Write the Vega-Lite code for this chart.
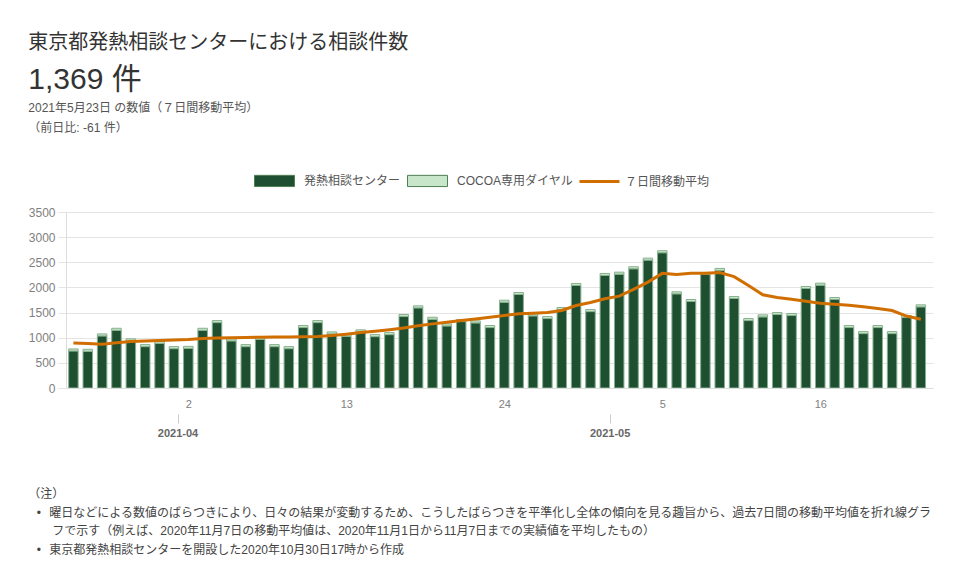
{
  "$schema": "https://vega.github.io/schema/vega-lite/v6.json",
  "background": "white",
  "padding": {"left": 28, "top": 33, "right": 10, "bottom": 5},
  "title": {
    "text": ["（注）", "\u200b\u2002\u2009•\u2002\u2009曜日などによる数値のばらつきにより、日々の結果が変動するため、こうしたばらつきを平準化し全体の傾向を見る趣旨から、過去7日間の移動平均値を折れ線グラ", "\u200b\u3000\u3000フで示す（例えば、2020年11月7日の移動平均値は、2020年11月1日から11月7日までの実績値を平均したもの）", "\u200b\u2002\u2009•\u2002\u2009東京都発熱相談センターを開設した2020年10月30日17時から作成"],
    "orient": "bottom",
    "anchor": "start",
    "fontSize": 12,
    "fontWeight": "normal",
    "color": "#444444",
    "lineHeight": 18.5,
    "offset": 51
  },
  "resolve": {"legend": {"color": "independent", "stroke": "independent"}},
  "datasets": {
    "bars": [
      {"date": "2021-03-25T00:00:00", "series": "発熱相談センター", "count": 737},
      {"date": "2021-03-26T00:00:00", "series": "発熱相談センター", "count": 730},
      {"date": "2021-03-27T00:00:00", "series": "発熱相談センター", "count": 1036},
      {"date": "2021-03-28T00:00:00", "series": "発熱相談センター", "count": 1148},
      {"date": "2021-03-29T00:00:00", "series": "発熱相談センター", "count": 937},
      {"date": "2021-03-30T00:00:00", "series": "発熱相談センター", "count": 823},
      {"date": "2021-03-31T00:00:00", "series": "発熱相談センター", "count": 889},
      {"date": "2021-04-01T00:00:00", "series": "発熱相談センター", "count": 783},
      {"date": "2021-04-02T00:00:00", "series": "発熱相談センター", "count": 789},
      {"date": "2021-04-03T00:00:00", "series": "発熱相談センター", "count": 1148},
      {"date": "2021-04-04T00:00:00", "series": "発熱相談センター", "count": 1301},
      {"date": "2021-04-05T00:00:00", "series": "発熱相談センター", "count": 937},
      {"date": "2021-04-06T00:00:00", "series": "発熱相談センター", "count": 823},
      {"date": "2021-04-07T00:00:00", "series": "発熱相談センター", "count": 969},
      {"date": "2021-04-08T00:00:00", "series": "発熱相談センター", "count": 823},
      {"date": "2021-04-09T00:00:00", "series": "発熱相談センター", "count": 783},
      {"date": "2021-04-10T00:00:00", "series": "発熱相談センター", "count": 1202},
      {"date": "2021-04-11T00:00:00", "series": "発熱相談センター", "count": 1301},
      {"date": "2021-04-12T00:00:00", "series": "発熱相談センター", "count": 1075},
      {"date": "2021-04-13T00:00:00", "series": "発熱相談センター", "count": 1030},
      {"date": "2021-04-14T00:00:00", "series": "発熱相談センター", "count": 1116},
      {"date": "2021-04-15T00:00:00", "series": "発熱相談センター", "count": 1022},
      {"date": "2021-04-16T00:00:00", "series": "発熱相談センター", "count": 1062},
      {"date": "2021-04-17T00:00:00", "series": "発熱相談センター", "count": 1421},
      {"date": "2021-04-18T00:00:00", "series": "発熱相談センター", "count": 1594},
      {"date": "2021-04-19T00:00:00", "series": "発熱相談センター", "count": 1367},
      {"date": "2021-04-20T00:00:00", "series": "発熱相談センター", "count": 1235},
      {"date": "2021-04-21T00:00:00", "series": "発熱相談センター", "count": 1321},
      {"date": "2021-04-22T00:00:00", "series": "発熱相談センター", "count": 1295},
      {"date": "2021-04-23T00:00:00", "series": "発熱相談センター", "count": 1202},
      {"date": "2021-04-24T00:00:00", "series": "発熱相談センター", "count": 1706},
      {"date": "2021-04-25T00:00:00", "series": "発熱相談センター", "count": 1859},
      {"date": "2021-04-26T00:00:00", "series": "発熱相談センター", "count": 1435},
      {"date": "2021-04-27T00:00:00", "series": "発熱相談センター", "count": 1381},
      {"date": "2021-04-28T00:00:00", "series": "発熱相談センター", "count": 1560},
      {"date": "2021-04-29T00:00:00", "series": "発熱相談センター", "count": 2039},
      {"date": "2021-04-30T00:00:00", "series": "発熱相談センター", "count": 1520},
      {"date": "2021-05-01T00:00:00", "series": "発熱相談センター", "count": 2238},
      {"date": "2021-05-02T00:00:00", "series": "発熱相談センター", "count": 2264},
      {"date": "2021-05-03T00:00:00", "series": "発熱相談センター", "count": 2371},
      {"date": "2021-05-04T00:00:00", "series": "発熱相談センター", "count": 2543},
      {"date": "2021-05-05T00:00:00", "series": "発熱相談センター", "count": 2690},
      {"date": "2021-05-06T00:00:00", "series": "発熱相談センター", "count": 1873},
      {"date": "2021-05-07T00:00:00", "series": "発熱相談センター", "count": 1720},
      {"date": "2021-05-08T00:00:00", "series": "発熱相談センター", "count": 2258},
      {"date": "2021-05-09T00:00:00", "series": "発熱相談センター", "count": 2338},
      {"date": "2021-05-10T00:00:00", "series": "発熱相談センター", "count": 1780},
      {"date": "2021-05-11T00:00:00", "series": "発熱相談センター", "count": 1341},
      {"date": "2021-05-12T00:00:00", "series": "発熱相談センター", "count": 1415},
      {"date": "2021-05-13T00:00:00", "series": "発熱相談センター", "count": 1461},
      {"date": "2021-05-14T00:00:00", "series": "発熱相談センター", "count": 1441},
      {"date": "2021-05-15T00:00:00", "series": "発熱相談センター", "count": 1979},
      {"date": "2021-05-16T00:00:00", "series": "発熱相談センター", "count": 2045},
      {"date": "2021-05-17T00:00:00", "series": "発熱相談センター", "count": 1760},
      {"date": "2021-05-18T00:00:00", "series": "発熱相談センター", "count": 1202},
      {"date": "2021-05-19T00:00:00", "series": "発熱相談センター", "count": 1082},
      {"date": "2021-05-20T00:00:00", "series": "発熱相談センター", "count": 1202},
      {"date": "2021-05-21T00:00:00", "series": "発熱相談センター", "count": 1082},
      {"date": "2021-05-22T00:00:00", "series": "発熱相談センター", "count": 1401},
      {"date": "2021-05-23T00:00:00", "series": "発熱相談センター", "count": 1614},
      {"date": "2021-03-25T00:00:00", "series": "COCOA専用ダイヤル", "count": 40},
      {"date": "2021-03-26T00:00:00", "series": "COCOA専用ダイヤル", "count": 40},
      {"date": "2021-03-27T00:00:00", "series": "COCOA専用ダイヤル", "count": 40},
      {"date": "2021-03-28T00:00:00", "series": "COCOA専用ダイヤル", "count": 40},
      {"date": "2021-03-29T00:00:00", "series": "COCOA専用ダイヤル", "count": 40},
      {"date": "2021-03-30T00:00:00", "series": "COCOA専用ダイヤル", "count": 40},
      {"date": "2021-03-31T00:00:00", "series": "COCOA専用ダイヤル", "count": 40},
      {"date": "2021-04-01T00:00:00", "series": "COCOA専用ダイヤル", "count": 40},
      {"date": "2021-04-02T00:00:00", "series": "COCOA専用ダイヤル", "count": 40},
      {"date": "2021-04-03T00:00:00", "series": "COCOA専用ダイヤル", "count": 40},
      {"date": "2021-04-04T00:00:00", "series": "COCOA専用ダイヤル", "count": 40},
      {"date": "2021-04-05T00:00:00", "series": "COCOA専用ダイヤル", "count": 40},
      {"date": "2021-04-06T00:00:00", "series": "COCOA専用ダイヤル", "count": 40},
      {"date": "2021-04-07T00:00:00", "series": "COCOA専用ダイヤル", "count": 40},
      {"date": "2021-04-08T00:00:00", "series": "COCOA専用ダイヤル", "count": 40},
      {"date": "2021-04-09T00:00:00", "series": "COCOA専用ダイヤル", "count": 40},
      {"date": "2021-04-10T00:00:00", "series": "COCOA専用ダイヤル", "count": 40},
      {"date": "2021-04-11T00:00:00", "series": "COCOA専用ダイヤル", "count": 40},
      {"date": "2021-04-12T00:00:00", "series": "COCOA専用ダイヤル", "count": 40},
      {"date": "2021-04-13T00:00:00", "series": "COCOA専用ダイヤル", "count": 40},
      {"date": "2021-04-14T00:00:00", "series": "COCOA専用ダイヤル", "count": 40},
      {"date": "2021-04-15T00:00:00", "series": "COCOA専用ダイヤル", "count": 40},
      {"date": "2021-04-16T00:00:00", "series": "COCOA専用ダイヤル", "count": 40},
      {"date": "2021-04-17T00:00:00", "series": "COCOA専用ダイヤル", "count": 40},
      {"date": "2021-04-18T00:00:00", "series": "COCOA専用ダイヤル", "count": 40},
      {"date": "2021-04-19T00:00:00", "series": "COCOA専用ダイヤル", "count": 40},
      {"date": "2021-04-20T00:00:00", "series": "COCOA専用ダイヤル", "count": 40},
      {"date": "2021-04-21T00:00:00", "series": "COCOA専用ダイヤル", "count": 40},
      {"date": "2021-04-22T00:00:00", "series": "COCOA専用ダイヤル", "count": 40},
      {"date": "2021-04-23T00:00:00", "series": "COCOA専用ダイヤル", "count": 40},
      {"date": "2021-04-24T00:00:00", "series": "COCOA専用ダイヤル", "count": 40},
      {"date": "2021-04-25T00:00:00", "series": "COCOA専用ダイヤル", "count": 40},
      {"date": "2021-04-26T00:00:00", "series": "COCOA専用ダイヤル", "count": 40},
      {"date": "2021-04-27T00:00:00", "series": "COCOA専用ダイヤル", "count": 40},
      {"date": "2021-04-28T00:00:00", "series": "COCOA専用ダイヤル", "count": 40},
      {"date": "2021-04-29T00:00:00", "series": "COCOA専用ダイヤル", "count": 40},
      {"date": "2021-04-30T00:00:00", "series": "COCOA専用ダイヤル", "count": 40},
      {"date": "2021-05-01T00:00:00", "series": "COCOA専用ダイヤル", "count": 40},
      {"date": "2021-05-02T00:00:00", "series": "COCOA専用ダイヤル", "count": 40},
      {"date": "2021-05-03T00:00:00", "series": "COCOA専用ダイヤル", "count": 40},
      {"date": "2021-05-04T00:00:00", "series": "COCOA専用ダイヤル", "count": 40},
      {"date": "2021-05-05T00:00:00", "series": "COCOA専用ダイヤル", "count": 40},
      {"date": "2021-05-06T00:00:00", "series": "COCOA専用ダイヤル", "count": 40},
      {"date": "2021-05-07T00:00:00", "series": "COCOA専用ダイヤル", "count": 40},
      {"date": "2021-05-08T00:00:00", "series": "COCOA専用ダイヤル", "count": 40},
      {"date": "2021-05-09T00:00:00", "series": "COCOA専用ダイヤル", "count": 40},
      {"date": "2021-05-10T00:00:00", "series": "COCOA専用ダイヤル", "count": 40},
      {"date": "2021-05-11T00:00:00", "series": "COCOA専用ダイヤル", "count": 40},
      {"date": "2021-05-12T00:00:00", "series": "COCOA専用ダイヤル", "count": 40},
      {"date": "2021-05-13T00:00:00", "series": "COCOA専用ダイヤル", "count": 40},
      {"date": "2021-05-14T00:00:00", "series": "COCOA専用ダイヤル", "count": 40},
      {"date": "2021-05-15T00:00:00", "series": "COCOA専用ダイヤル", "count": 40},
      {"date": "2021-05-16T00:00:00", "series": "COCOA専用ダイヤル", "count": 40},
      {"date": "2021-05-17T00:00:00", "series": "COCOA専用ダイヤル", "count": 40},
      {"date": "2021-05-18T00:00:00", "series": "COCOA専用ダイヤル", "count": 40},
      {"date": "2021-05-19T00:00:00", "series": "COCOA専用ダイヤル", "count": 40},
      {"date": "2021-05-20T00:00:00", "series": "COCOA専用ダイヤル", "count": 40},
      {"date": "2021-05-21T00:00:00", "series": "COCOA専用ダイヤル", "count": 40},
      {"date": "2021-05-22T00:00:00", "series": "COCOA専用ダイヤル", "count": 40},
      {"date": "2021-05-23T00:00:00", "series": "COCOA専用ダイヤル", "count": 40}
    ],
    "ma": [
      {"date": "2021-03-25T00:00:00", "series": "７日間移動平均", "avg": 895},
      {"date": "2021-03-26T00:00:00", "series": "７日間移動平均", "avg": 885},
      {"date": "2021-03-27T00:00:00", "series": "７日間移動平均", "avg": 870},
      {"date": "2021-03-28T00:00:00", "series": "７日間移動平均", "avg": 900},
      {"date": "2021-03-29T00:00:00", "series": "７日間移動平均", "avg": 925},
      {"date": "2021-03-30T00:00:00", "series": "７日間移動平均", "avg": 935},
      {"date": "2021-03-31T00:00:00", "series": "７日間移動平均", "avg": 945},
      {"date": "2021-04-01T00:00:00", "series": "７日間移動平均", "avg": 955},
      {"date": "2021-04-02T00:00:00", "series": "７日間移動平均", "avg": 965},
      {"date": "2021-04-03T00:00:00", "series": "７日間移動平均", "avg": 985},
      {"date": "2021-04-04T00:00:00", "series": "７日間移動平均", "avg": 995},
      {"date": "2021-04-05T00:00:00", "series": "７日間移動平均", "avg": 1000},
      {"date": "2021-04-06T00:00:00", "series": "７日間移動平均", "avg": 1005},
      {"date": "2021-04-07T00:00:00", "series": "７日間移動平均", "avg": 1010},
      {"date": "2021-04-08T00:00:00", "series": "７日間移動平均", "avg": 1012},
      {"date": "2021-04-09T00:00:00", "series": "７日間移動平均", "avg": 1015},
      {"date": "2021-04-10T00:00:00", "series": "７日間移動平均", "avg": 1018},
      {"date": "2021-04-11T00:00:00", "series": "７日間移動平均", "avg": 1022},
      {"date": "2021-04-12T00:00:00", "series": "７日間移動平均", "avg": 1042},
      {"date": "2021-04-13T00:00:00", "series": "７日間移動平均", "avg": 1070},
      {"date": "2021-04-14T00:00:00", "series": "７日間移動平均", "avg": 1102},
      {"date": "2021-04-15T00:00:00", "series": "７日間移動平均", "avg": 1128},
      {"date": "2021-04-16T00:00:00", "series": "７日間移動平均", "avg": 1160},
      {"date": "2021-04-17T00:00:00", "series": "７日間移動平均", "avg": 1195},
      {"date": "2021-04-18T00:00:00", "series": "７日間移動平均", "avg": 1236},
      {"date": "2021-04-19T00:00:00", "series": "７日間移動平均", "avg": 1275},
      {"date": "2021-04-20T00:00:00", "series": "７日間移動平均", "avg": 1308},
      {"date": "2021-04-21T00:00:00", "series": "７日間移動平均", "avg": 1341},
      {"date": "2021-04-22T00:00:00", "series": "７日間移動平均", "avg": 1372},
      {"date": "2021-04-23T00:00:00", "series": "７日間移動平均", "avg": 1407},
      {"date": "2021-04-24T00:00:00", "series": "７日間移動平均", "avg": 1441},
      {"date": "2021-04-25T00:00:00", "series": "７日間移動平均", "avg": 1475},
      {"date": "2021-04-26T00:00:00", "series": "７日間移動平均", "avg": 1487},
      {"date": "2021-04-27T00:00:00", "series": "７日間移動平均", "avg": 1501},
      {"date": "2021-04-28T00:00:00", "series": "７日間移動平均", "avg": 1541},
      {"date": "2021-04-29T00:00:00", "series": "７日間移動平均", "avg": 1640},
      {"date": "2021-04-30T00:00:00", "series": "７日間移動平均", "avg": 1700},
      {"date": "2021-05-01T00:00:00", "series": "７日間移動平均", "avg": 1774},
      {"date": "2021-05-02T00:00:00", "series": "７日間移動平均", "avg": 1826},
      {"date": "2021-05-03T00:00:00", "series": "７日間移動平均", "avg": 1960},
      {"date": "2021-05-04T00:00:00", "series": "７日間移動平均", "avg": 2105},
      {"date": "2021-05-05T00:00:00", "series": "７日間移動平均", "avg": 2280},
      {"date": "2021-05-06T00:00:00", "series": "７日間移動平均", "avg": 2258},
      {"date": "2021-05-07T00:00:00", "series": "７日間移動平均", "avg": 2284},
      {"date": "2021-05-08T00:00:00", "series": "７日間移動平均", "avg": 2284},
      {"date": "2021-05-09T00:00:00", "series": "７日間移動平均", "avg": 2298},
      {"date": "2021-05-10T00:00:00", "series": "７日間移動平均", "avg": 2215},
      {"date": "2021-05-11T00:00:00", "series": "７日間移動平均", "avg": 2039},
      {"date": "2021-05-12T00:00:00", "series": "７日間移動平均", "avg": 1853},
      {"date": "2021-05-13T00:00:00", "series": "７日間移動平均", "avg": 1800},
      {"date": "2021-05-14T00:00:00", "series": "７日間移動平均", "avg": 1766},
      {"date": "2021-05-15T00:00:00", "series": "７日間移動平均", "avg": 1726},
      {"date": "2021-05-16T00:00:00", "series": "７日間移動平均", "avg": 1686},
      {"date": "2021-05-17T00:00:00", "series": "７日間移動平均", "avg": 1666},
      {"date": "2021-05-18T00:00:00", "series": "７日間移動平均", "avg": 1646},
      {"date": "2021-05-19T00:00:00", "series": "７日間移動平均", "avg": 1614},
      {"date": "2021-05-20T00:00:00", "series": "７日間移動平均", "avg": 1580},
      {"date": "2021-05-21T00:00:00", "series": "７日間移動平均", "avg": 1541},
      {"date": "2021-05-22T00:00:00", "series": "７日間移動平均", "avg": 1430},
      {"date": "2021-05-23T00:00:00", "series": "７日間移動平均", "avg": 1369}
    ]
  },
  "vconcat": [
    {
      "title": {
        "text": "東京都発熱相談センターにおける相談件数",
        "anchor": "start",
        "fontSize": 20,
        "fontWeight": "normal",
        "color": "#333333",
        "offset": 12
      },
      "resolve": {"legend": {"color": "independent", "stroke": "independent"}},
      "vconcat": [
        {
          "title": {
            "text": "1,369 件",
            "subtitle": ["2021年5月23日 の数値（７日間移動平均）", "（前日比: -61 件）"],
            "anchor": "start",
            "fontSize": 30,
            "fontWeight": "normal",
            "color": "#333333",
            "subtitleFontSize": 12,
            "subtitleColor": "#555555",
            "subtitleLineHeight": 20,
            "subtitlePadding": 8,
            "offset": 26
          },
          "width": 867,
          "height": 176,
          "resolve": {"axis": {"x": "independent"}},
          "layer": [
            {
              "data": {"name": "bars"},
              "mark": {"type": "bar", "size": 9.5, "clip": true, "stroke": "#86b08e", "strokeWidth": 1},
              "encoding": {
                "x": {
                  "field": "date",
                  "type": "temporal",
                  "scale": {"domain": [{"year": 2021, "month": 3, "date": 24, "hours": 20}, {"year": 2021, "month": 5, "date": 23, "hours": 12}]},
                  "axis": {
                    "title": null,
                    "values": [{"year": 2021, "month": 4, "date": 2}, {"year": 2021, "month": 4, "date": 13}, {"year": 2021, "month": 4, "date": 24}, {"year": 2021, "month": 5, "date": 5}, {"year": 2021, "month": 5, "date": 16}],
                    "format": "%-d",
                    "ticks": false,
                    "grid": false,
                    "domain": true,
                    "domainColor": "#dddddd",
                    "labelFontSize": 11,
                    "labelColor": "#808080",
                    "labelPadding": 10
                  }
                },
                "y": {
                  "field": "count",
                  "type": "quantitative",
                  "stack": "zero",
                  "scale": {"domain": [0, 3500], "nice": false},
                  "axis": {
                    "title": null,
                    "values": [0, 500, 1000, 1500, 2000, 2500, 3000, 3500],
                    "format": "d",
                    "labelOverlap": false,
                    "grid": true,
                    "gridColor": "#e4e4e4",
                    "tickColor": "#e4e4e4",
                    "tickSize": 8,
                    "domain": true,
                    "domainColor": "#dddddd",
                    "labelFontSize": 12,
                    "labelColor": "#808080",
                    "labelPadding": 3
                  }
                },
                "order": {"field": "series", "sort": "descending"},
                "color": {
                  "field": "series",
                  "type": "nominal",
                  "scale": {"domain": ["発熱相談センター", "COCOA専用ダイヤル"], "range": ["#1f4f31", "#c8e6c9"]},
                  "legend": {
                    "title": null,
                    "orient": "none",
                    "legendX": 188,
                    "legendY": -52,
                    "direction": "horizontal",
                    "padding": 0,
                    "symbolType": "M-1,-0.28H1V0.28H-1Z",
                    "symbolSize": 1600,
                    "symbolStrokeColor": "#4f7f55",
                    "symbolStrokeWidth": 1,
                    "symbolOpacity": 1,
                    "labelFontSize": 12,
                    "labelColor": "#555555",
                    "labelOffset": 9,
                    "columnPadding": 4
                  }
                }
              }
            },
            {
              "data": {"name": "ma"},
              "mark": {"type": "line", "strokeWidth": 3, "clip": true},
              "encoding": {
                "x": {
                  "field": "date",
                  "type": "temporal",
                  "axis": {
                    "title": null,
                    "orient": "bottom",
                    "offset": 26,
                    "values": [{"year": 2021, "month": 4, "date": 1, "hours": 6}, {"year": 2021, "month": 5, "date": 1, "hours": 8}],
                    "format": "%Y-%m",
                    "domain": false,
                    "grid": false,
                    "ticks": true,
                    "tickSize": 9,
                    "tickColor": "#cccccc",
                    "labelFontSize": 11,
                    "labelFontWeight": "bold",
                    "labelColor": "#666666",
                    "labelPadding": 4
                  }
                },
                "y": {
                  "field": "avg",
                  "type": "quantitative",
                  "axis": {
                    "title": null,
                    "values": [0, 500, 1000, 1500, 2000, 2500, 3000, 3500],
                    "format": "d",
                    "labelOverlap": false,
                    "grid": true,
                    "gridColor": "#e4e4e4",
                    "tickColor": "#e4e4e4",
                    "tickSize": 8,
                    "domain": true,
                    "domainColor": "#dddddd",
                    "labelFontSize": 12,
                    "labelColor": "#808080",
                    "labelPadding": 3
                  }
                },
                "stroke": {
                  "field": "series",
                  "type": "nominal",
                  "scale": {"domain": ["７日間移動平均"], "range": ["#d06e00"]},
                  "legend": {
                    "title": null,
                    "orient": "none",
                    "legendX": 512,
                    "legendY": -52,
                    "direction": "horizontal",
                    "padding": 0,
                    "symbolType": "stroke",
                    "symbolSize": 1600,
                    "symbolStrokeWidth": 3,
                    "labelFontSize": 12,
                    "labelColor": "#555555",
                    "labelOffset": 4
                  }
                }
              }
            }
          ]
        }
      ]
    }
  ],
  "config": {
    "font": "Liberation Sans, Noto Sans CJK JP, sans-serif",
    "view": {"stroke": null}
  }
}
